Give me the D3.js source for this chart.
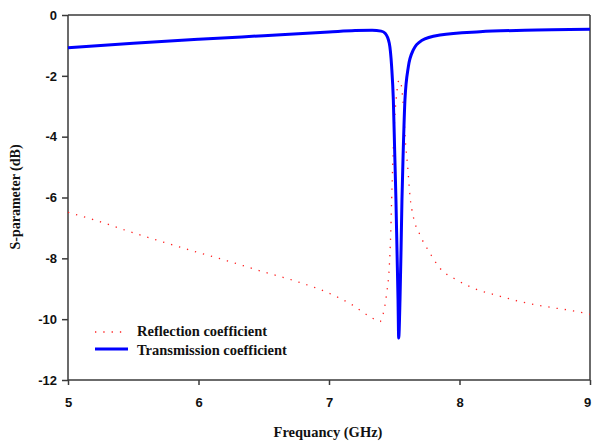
<!DOCTYPE html>
<html>
<head>
<meta charset="utf-8">
<script src="https://cdn.jsdelivr.net/npm/d3@7"></script>
<style>
  html, body { margin: 0; padding: 0; background: #fff; }
  svg { display: block; }
</style>
</head>
<body>
<svg id="chart" width="592" height="441"></svg>
<script>
// ---- Data ----
const xTicks = [5, 6, 7, 8, 9];
const yTicks = [0, -2, -4, -6, -8, -10, -12];

const reflFreq = [5.00, 5.22, 5.45, 5.71, 5.96, 6.22, 6.47, 6.73, 6.98, 7.17, 7.33, 7.39, 7.416, 7.442, 7.462, 7.473, 7.480, 7.488, 7.498, 7.508, 7.519, 7.531, 7.544, 7.559, 7.575, 7.585, 7.603, 7.621, 7.646, 7.697, 7.774, 7.851, 7.979, 8.080, 8.144, 8.272, 8.464, 8.668, 8.872, 9.00];
const reflDb   = [-6.49, -6.76, -7.09, -7.44, -7.76, -8.08, -8.41, -8.73, -9.11, -9.51, -9.96, -10.08, -9.81, -9.15, -8.27, -7.17, -6.08, -4.99, -3.88, -3.12, -2.57, -2.19, -2.14, -2.47, -3.34, -4.11, -4.99, -5.97, -6.63, -7.23, -7.83, -8.33, -8.71, -8.93, -9.04, -9.20, -9.42, -9.59, -9.73, -9.84];

const transFreq = [5.0, 5.5, 6.0, 6.5, 7.0, 7.2, 7.33, 7.40, 7.43, 7.462, 7.480, 7.493, 7.503, 7.513, 7.521, 7.529, 7.534, 7.544, 7.552, 7.559, 7.569, 7.582, 7.608, 7.646, 7.710, 7.851, 8.157, 8.5, 9.0];
const transDb   = [-1.08, -0.93, -0.80, -0.68, -0.56, -0.51, -0.50, -0.53, -0.60, -0.93, -1.70, -2.79, -4.44, -6.08, -7.73, -9.37, -10.62, -9.37, -7.73, -6.08, -4.44, -2.79, -1.70, -1.15, -0.84, -0.66, -0.55, -0.50, -0.47];

const seriesNames = ["Reflection coefficient", "Transmission coefficient"];
const xTitle = "Frequancy (GHz)";
const yTitle = "S-parameter (dB)";

// ---- Layout ----
const svg = d3.select("#chart");
const pLeft = 68, pRight = 590, pTop = 15, pBottom = 380;

const x = d3.scaleLinear().domain([5, 9]).range([pLeft, pRight]);
const y = d3.scaleLinear().domain([-12, 0]).range([pBottom, pTop]);

const tickFont = "'Liberation Sans', Arial, sans-serif";
const titleFont = "'Liberation Serif', 'Times New Roman', serif";
const frameColor = "#3a3a3a";

// Frame (top & right)
svg.append("line").attr("x1", pLeft).attr("x2", pRight).attr("y1", pTop).attr("y2", pTop)
  .attr("stroke", frameColor).attr("stroke-width", 1.5);
svg.append("line").attr("x1", pRight).attr("x2", pRight).attr("y1", pTop).attr("y2", pBottom)
  .attr("stroke", frameColor).attr("stroke-width", 1.5);

// Axes
const yAxis = svg.append("g").attr("transform", `translate(${pLeft},0)`)
  .call(d3.axisLeft(y).tickValues(yTicks).tickSize(6).tickPadding(5).tickFormat(d3.format("d")));
const xAxis = svg.append("g").attr("transform", `translate(0,${pBottom})`)
  .call(d3.axisBottom(x).tickValues(xTicks).tickSize(5).tickPadding(13).tickFormat(d3.format("d")));

[yAxis, xAxis].forEach(g => {
  g.select(".domain").attr("stroke", frameColor).attr("stroke-width", 1.5);
  g.selectAll(".tick line").attr("stroke", frameColor).attr("stroke-width", 1.5);
  g.selectAll(".tick text").attr("fill", "#111").style("font-family", tickFont)
    .style("font-size", "13px").style("font-weight", "bold");
});
yAxis.selectAll(".tick text").text(d => d === 0 ? "0" : String(d));
// keep the last x label inside the window
xAxis.selectAll(".tick text").filter(d => d === 9).attr("x", -3);
xAxis.select(".domain").attr("d", `M${pLeft},0H${pRight}`);
yAxis.select(".domain").attr("d", `M0,${pTop}V${pBottom}`);

// Axis titles
svg.append("text").attr("x", 328).attr("y", 437).attr("text-anchor", "middle")
  .style("font-family", titleFont).style("font-size", "14.5px").style("font-weight", "bold")
  .attr("fill", "#111").text(xTitle);
svg.append("text").attr("transform", "translate(20,197) rotate(-90)").attr("text-anchor", "middle")
  .style("font-family", titleFont).style("font-size", "14px").style("font-weight", "bold")
  .attr("fill", "#111").text(yTitle);

// Lines
const line = d3.line().x(d => x(d[0])).y(d => y(d[1])).curve(d3.curveMonotoneX);
const reflData = reflFreq.map((f, i) => [f, reflDb[i]]);
const transData = transFreq.map((f, i) => [f, transDb[i]]);

svg.append("path").datum(reflData).attr("d", line)
  .attr("fill", "none").attr("stroke", "#ff2020").attr("stroke-width", 1.3)
  .attr("stroke-dasharray", "1.3,7");

svg.append("path").datum(transData).attr("d", line)
  .attr("fill", "none").attr("stroke", "#0000ff").attr("stroke-width", 3)
  .attr("stroke-linejoin", "round");

// Legend
const legend = svg.append("g");
legend.append("line").attr("x1", 95).attr("x2", 126).attr("y1", 332).attr("y2", 332)
  .attr("stroke", "#ff2020").attr("stroke-width", 1.3).attr("stroke-dasharray", "1.3,7");
legend.append("line").attr("x1", 95).attr("x2", 128).attr("y1", 349).attr("y2", 349)
  .attr("stroke", "#0000ff").attr("stroke-width", 3);
legend.append("text").attr("x", 137).attr("y", 336).text(seriesNames[0])
  .style("font-family", titleFont).style("font-size", "14.5px").style("font-weight", "bold").attr("fill", "#111");
legend.append("text").attr("x", 137).attr("y", 355).text(seriesNames[1])
  .style("font-family", titleFont).style("font-size", "14.5px").style("font-weight", "bold").attr("fill", "#111");
</script>
</body>
</html>
